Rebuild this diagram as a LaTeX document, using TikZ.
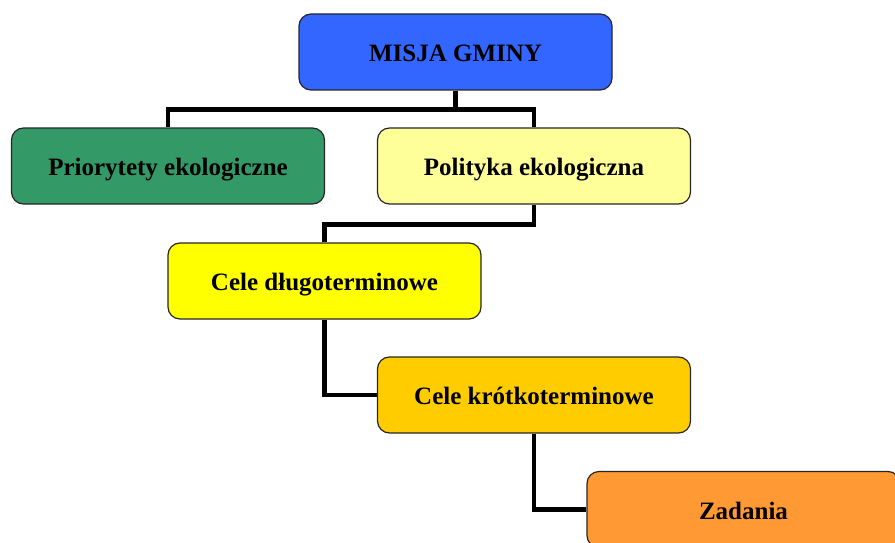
\documentclass[tikz,border=0pt]{standalone}
\usepackage{fontspec}
\setmainfont{Liberation Serif}
\usetikzlibrary{positioning}

\definecolor{misjablue}{HTML}{3366FF}
\definecolor{priorgreen}{HTML}{339966}
\definecolor{politpale}{HTML}{FFFF99}
\definecolor{longyellow}{HTML}{FFFF00}
\definecolor{shortgold}{HTML}{FFCC00}
\definecolor{taskorange}{HTML}{FF9933}

\tikzset{
  goalbox/.style={draw=black!85, line width=1.2pt, rounded corners=12pt,
    minimum width=313pt, minimum height=76pt, inner sep=0pt,
    text height=19.5pt, text depth=0pt,
    font=\fontsize{25}{29}\selectfont\bfseries},
  link/.style={line width=4.5pt}
}

\begin{document}
\begin{tikzpicture}[x=1pt,y=-1pt]
\useasboundingbox (0,0) rectangle (895,543);
\clip (0,0) rectangle (895,543);
\node[goalbox, fill=misjablue]  (misja) at (455.5,52)  {MISJA GMINY};
\node[goalbox, fill=priorgreen] (prior) at (168,166)   {Priorytety ekologiczne};
\node[goalbox, fill=politpale]  (polit) at (534,166)   {Polityka ekologiczna};
\node[goalbox, fill=longyellow] (celeD) at (324.5,281) {Cele długoterminowe};
\node[goalbox, fill=shortgold]  (celeK) at (534,395)   {Cele krótkoterminowe};
\node[goalbox, fill=taskorange] (zad)   at (743.5,509.5) {Zadania};

\draw[link] (misja.south) -- ++(0,19) -| (prior.north);
\draw[link] (misja.south) -- ++(0,19) -| (polit.north);
\draw[link] (polit.south) -- ++(0,20) -| (celeD.north);
\draw[link] (celeD.south) |- (celeK.west);
\draw[link] (celeK.south) |- (zad.west);
\end{tikzpicture}
\end{document}
